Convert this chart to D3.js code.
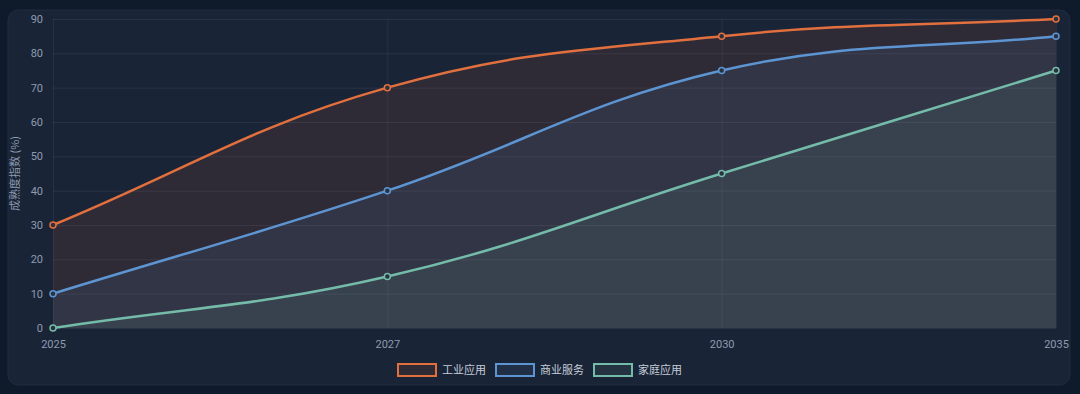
<!DOCTYPE html>
<html lang="zh">
<head>
<meta charset="utf-8">
<title>成熟度指数</title>
<script src="https://cdn.jsdelivr.net/npm/d3@7"></script>
<style>
  html, body { margin: 0; padding: 0; background: #0f1a2b; }
  body { font-family: "Noto Sans CJK SC", "Noto Sans", sans-serif; }
  svg { display: block; }
</style>
</head>
<body>
<script>
// data
var years = ["2025", "2027", "2030", "2035"];
var seriesNames = ["工业应用", "商业服务", "家庭应用"];
var industrial = [30, 70, 85, 90];
var commercial = [10, 40, 75, 85];
var household = [0, 15, 45, 75];
var yTicks = [0, 10, 20, 30, 40, 50, 60, 70, 80, 90];
var colors = ["#e2703e", "#5d95d2", "#74bba9"];

var w = 1080, h = 394;
var padL = 53, padR = 1056, padT = 19, padB = 328;

var svg = d3.select("body").append("svg")
  .attr("width", w).attr("height", h);

// card
svg.append("rect")
  .attr("x", 8).attr("y", 10)
  .attr("width", 1062).attr("height", 375)
  .attr("rx", 10)
  .attr("fill", "#1a2437")
  .attr("stroke", "#202c40").attr("stroke-width", 1);

var xScale = d3.scalePoint().domain(years).range([padL, padR]);
var yScale = d3.scaleLinear().domain([0, 90]).range([padB, padT]);

// grid
svg.append("g").selectAll("line").data(yTicks).enter().append("line")
  .attr("x1", padL).attr("x2", padR)
  .attr("y1", function(d) { return yScale(d) + 0.5; })
  .attr("y2", function(d) { return yScale(d) + 0.5; })
  .attr("stroke", "rgba(255,255,255,0.07)");
svg.append("g").selectAll("line").data(years).enter().append("line")
  .attr("x1", function(d) { return xScale(d) + 0.5; })
  .attr("x2", function(d) { return xScale(d) + 0.5; })
  .attr("y1", padT).attr("y2", padB)
  .attr("stroke", "rgba(255,255,255,0.06)");

// chart.js-like spline (tension 0.4, capped to chart area)
function splinePoints(vals) {
  var pts = vals.map(function(v, i) { return { x: xScale(years[i]), y: yScale(v) }; });
  var t = 0.4;
  pts.forEach(function(p, i) {
    var prev = pts[i - 1] || p, next = pts[i + 1] || p;
    var d01 = Math.hypot(p.x - prev.x, p.y - prev.y);
    var d12 = Math.hypot(next.x - p.x, next.y - p.y);
    var s01 = d01 / (d01 + d12), s12 = d12 / (d01 + d12);
    if (isNaN(s01)) s01 = 0;
    if (isNaN(s12)) s12 = 0;
    var fa = t * s01, fb = t * s12;
    p.cpPrev = { x: p.x - fa * (next.x - prev.x), y: p.y - fa * (next.y - prev.y) };
    p.cpNext = { x: p.x + fb * (next.x - prev.x), y: p.y + fb * (next.y - prev.y) };
    [p.cpPrev, p.cpNext].forEach(function(c) {
      c.x = Math.max(padL, Math.min(padR, c.x));
      c.y = Math.max(padT, Math.min(padB, c.y));
    });
  });
  return pts;
}

function linePath(pts, ctx) {
  ctx.moveTo(pts[0].x, pts[0].y);
  for (var i = 1; i < pts.length; i++) {
    var a = pts[i - 1], b = pts[i];
    ctx.bezierCurveTo(a.cpNext.x, a.cpNext.y, b.cpPrev.x, b.cpPrev.y, b.x, b.y);
  }
  return ctx;
}

var allSeries = [industrial, commercial, household];

// fills to origin
allSeries.forEach(function(vals, k) {
  var pts = splinePoints(vals);
  var p = linePath(pts, d3.path());
  p.lineTo(pts[pts.length - 1].x, yScale(0));
  p.lineTo(pts[0].x, yScale(0));
  p.closePath();
  svg.append("path").attr("d", p.toString())
    .attr("fill", d3.color(colors[k]).copy({ opacity: 0.1 }).toString());
});

// lines
allSeries.forEach(function(vals, k) {
  var pts = splinePoints(vals);
  svg.append("path").attr("d", linePath(pts, d3.path()).toString())
    .attr("fill", "none")
    .attr("stroke", colors[k])
    .attr("stroke-width", 2.5);
});

// points
allSeries.forEach(function(vals, k) {
  svg.append("g").selectAll("circle").data(vals).enter().append("circle")
    .attr("cx", function(d, i) { return xScale(years[i]); })
    .attr("cy", function(d) { return yScale(d); })
    .attr("r", 3)
    .attr("fill", "#2a3140")
    .attr("stroke", colors[k])
    .attr("stroke-width", 1.5);
});

// axes
var yAxis = d3.axisLeft(yScale).tickValues(yTicks).tickSize(0).tickPadding(10);
var gy = svg.append("g").attr("transform", "translate(" + padL + ",0)").call(yAxis);
var xAxis = d3.axisBottom(xScale).tickSize(0).tickPadding(12);
var gx = svg.append("g").attr("transform", "translate(0," + padB + ")").call(xAxis);
[gy, gx].forEach(function(g) {
  g.select(".domain").remove();
  g.selectAll("text")
    .attr("fill", "#8e9bb0")
    .style("font-family", "Roboto, 'Noto Sans', sans-serif")
    .style("font-size", "11px");
});

// y title
svg.append("text")
  .attr("transform", "translate(19," + ((padT + padB) / 2) + ") rotate(-90)")
  .attr("text-anchor", "middle")
  .attr("fill", "#8e9bb0")
  .style("font-size", "11px")
  .text("成熟度指数 (%)");

// legend
var boxW = 40, boxH = 12, gap = 5, itemGap = 10, fs = 11;
var legend = svg.append("g");
var items = legend.selectAll("g").data(seriesNames).enter().append("g");
items.append("rect")
  .attr("width", boxW - 2).attr("height", boxH)
  .attr("x", 1).attr("y", -boxH / 2)
  .attr("fill", function(d, i) { return d3.color(colors[i]).copy({ opacity: 0.1 }).toString(); })
  .attr("stroke", function(d, i) { return colors[i]; })
  .attr("stroke-width", 2);
items.append("text")
  .attr("x", boxW + gap).attr("y", 0)
  .attr("dy", "0.35em")
  .attr("fill", "#c5cdd9")
  .style("font-size", fs + "px")
  .text(function(d) { return d; });
var widths = [];
items.each(function() { widths.push(this.getBBox().width); });
var total = d3.sum(widths) + itemGap * (widths.length - 1);
var cx = w / 2 - 1 - total / 2, acc = 0;
items.attr("transform", function(d, i) {
  var tx = cx + acc;
  acc += widths[i] + itemGap;
  return "translate(" + tx + ",370)";
});
</script>
</body>
</html>
